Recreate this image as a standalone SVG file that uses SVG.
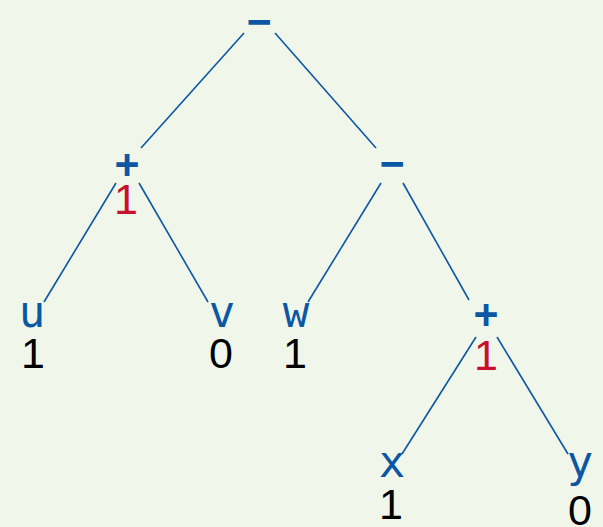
<svg xmlns="http://www.w3.org/2000/svg" width="603" height="527" viewBox="0 0 603 527">
  <style>
    .op { font-family: "DejaVu Sans Mono", monospace; font-weight: bold; font-size: 40px; fill: #0b57a4; text-anchor: middle; }
    .var { font-family: "DejaVu Sans Mono", monospace; font-size: 44px; fill: #0b57a4; text-anchor: middle; }
    .val { font-family: "Liberation Sans", Arial, sans-serif; font-size: 43px; fill: #000; text-anchor: middle; }
    .red { fill: #c8102e; }
    .edge { stroke: #0b57a4; stroke-width: 1.6; fill: none; }
  </style>
  <rect width="603" height="527" fill="#f1f6ea"/>

  <g id="connectors">
    <line class="edge" x1="244" y1="33" x2="141" y2="148"/>
    <line class="edge" x1="275" y1="33" x2="376" y2="148"/>
    <line class="edge" x1="116" y1="183" x2="44" y2="302"/>
    <line class="edge" x1="139" y1="183" x2="208" y2="302"/>
    <line class="edge" x1="381" y1="183" x2="308" y2="302"/>
    <line class="edge" x1="403" y1="183" x2="469" y2="300"/>
    <line class="edge" x1="476" y1="337" x2="402" y2="454"/>
    <line class="edge" x1="497" y1="337" x2="568" y2="454"/>
  </g>

  <g id="root">
    <text class="op" x="259" y="35">−</text>
  </g>
  <g id="plus-left">
    <text class="op" x="127" y="178">+</text>
    <text class="val red" x="126" y="214">1</text>
  </g>
  <g id="minus-right">
    <text class="op" x="392" y="177">−</text>
  </g>
  <g id="leaf-u">
    <text class="var" x="32" y="327">u</text>
    <text class="val" x="33" y="368">1</text>
  </g>
  <g id="leaf-v">
    <text class="var" x="222" y="327">v</text>
    <text class="val" x="221" y="368">0</text>
  </g>
  <g id="leaf-w">
    <text class="var" x="296" y="327">w</text>
    <text class="val" x="295" y="368">1</text>
  </g>
  <g id="plus-right">
    <text class="op" x="486" y="328">+</text>
    <text class="val red" x="486" y="370">1</text>
  </g>
  <g id="leaf-x">
    <text class="var" x="392" y="477">x</text>
    <text class="val" x="391" y="519">1</text>
  </g>
  <g id="leaf-y">
    <text class="var" x="580" y="477">y</text>
    <text class="val" x="580" y="525">0</text>
  </g>
</svg>
